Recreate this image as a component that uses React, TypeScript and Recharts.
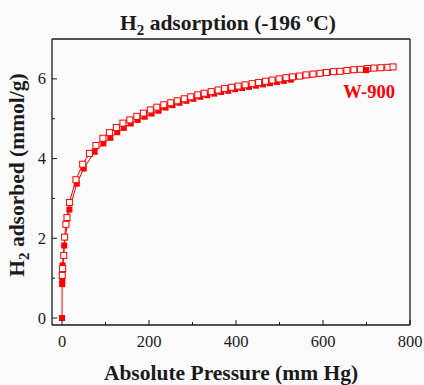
import { ComposedChart, Line, XAxis, YAxis, ReferenceLine } from "recharts"

// adsorption branch (filled squares)
const adsP = [0, 0.4, 0.6, 1.3, 5, 17, 34, 50, 75, 95, 111, 127, 142, 158, 174, 190, 206, 222, 238, 254, 270, 286, 302, 318, 334, 350, 366, 382, 398, 414, 430, 446, 462, 478, 494, 510, 526, 699]
const adsV = [0, 0.85, 0.95, 1.32, 1.82, 2.72, 3.37, 3.75, 4.17, 4.38, 4.52, 4.66, 4.77, 4.88, 4.97, 5.05, 5.13, 5.2, 5.28, 5.34, 5.4, 5.45, 5.5, 5.55, 5.59, 5.63, 5.67, 5.7, 5.74, 5.77, 5.8, 5.83, 5.86, 5.89, 5.92, 5.95, 5.98, 6.22]

// desorption branch (open squares)
const desP = [0.5, 1.5, 4, 6, 9, 11.5, 17, 32, 47.5, 63, 78, 94, 109, 125, 140, 156, 172, 187, 203, 218, 234, 250, 265, 281, 296, 312, 327, 343, 359, 374, 390, 405, 421, 437, 452, 468, 483, 499, 515, 530, 546, 561, 577, 593, 608, 624, 639, 655, 671, 686, 702, 717, 733, 749, 761]
const desV = [1.07, 1.24, 1.57, 2.03, 2.35, 2.52, 2.9, 3.47, 3.86, 4.13, 4.33, 4.51, 4.65, 4.78, 4.89, 4.97, 5.06, 5.14, 5.22, 5.29, 5.35, 5.4, 5.45, 5.5, 5.55, 5.6, 5.64, 5.68, 5.72, 5.76, 5.79, 5.82, 5.85, 5.88, 5.91, 5.94, 5.97, 6.0, 6.03, 6.05, 6.07, 6.1, 6.12, 6.14, 6.16, 6.18, 6.19, 6.21, 6.23, 6.24, 6.26, 6.27, 6.28, 6.29, 6.3]

const xTicks = [0, 100, 200, 300, 400, 500, 600, 700, 800]
const yTicks = [0, 1, 2, 3, 4, 5, 6]

const adsData = adsP.map((p, i) => ({ p, v: adsV[i] }))
const desData = desP.map((p, i) => ({ p, v: desV[i] }))
const lastAds = adsData.slice(-1)

const RED = "#ff0000"
const INK = "#1a1a1a"
const FONT = "'Liberation Serif', 'Times New Roman', serif"

const filledDot = (props: any) => {
  const { cx, cy, index } = props
  if (cx == null || cy == null) return <g key={`f${index}`} />
  return <rect key={`f${index}`} x={cx - 3} y={cy - 3} width={6} height={6} fill={RED} />
}

const openDot = (props: any) => {
  const { cx, cy, index } = props
  if (cx == null || cy == null) return <g key={`o${index}`} />
  return <rect key={`o${index}`} x={cx - 3} y={cy - 3} width={6} height={6} fill="#ffffff" stroke={RED} strokeWidth={1} />
}

const XTick = (props: any) => {
  const { x, y, payload } = props
  const major = payload.value % 200 === 0
  return (
    <g>
      <line x1={x} x2={x} y1={y} y2={y - (major ? 5 : 3)} stroke={INK} strokeWidth={1} />
      {major && (
        <text x={x} y={y + 22} textAnchor="middle" fill={INK} style={{ fontFamily: FONT, fontSize: 16.5 }}>
          {payload.value}
        </text>
      )}
    </g>
  )
}

const YTick = (props: any) => {
  const { x, y, payload } = props
  const major = payload.value % 2 === 0
  return (
    <g>
      <line x1={x} x2={x + (major ? 5 : 3)} y1={y} y2={y} stroke={INK} strokeWidth={1} />
      {major && (
        <text x={x - 6} y={y + 5.5} textAnchor="end" fill={INK} style={{ fontFamily: FONT, fontSize: 16.5 }}>
          {payload.value}
        </text>
      )}
    </g>
  )
}

const titleStyle = { fontFamily: FONT, fontSize: 21.5, fontWeight: "bold" as const }

export default function App() {
  return (
    <div style={{ position: "absolute", left: 0, top: 0, width: 424, height: 385, background: "#fafafa" }}>
      <ComposedChart width={424} height={385} margin={{ top: 39, right: 14, bottom: 0, left: 0 }}>
        <XAxis
          type="number"
          dataKey="p"
          domain={[-23, 800]}
          allowDataOverflow
          ticks={xTicks}
          interval={0}
          height={60}
          tickSize={0}
          tickMargin={0}
          tickLine={false}
          tick={<XTick />}
          axisLine={{ stroke: INK, strokeWidth: 1.3 }}
        />
        <YAxis
          type="number"
          dataKey="v"
          domain={[-0.175, 7]}
          allowDataOverflow
          ticks={yTicks}
          interval={0}
          width={52}
          tickSize={0}
          tickMargin={0}
          tickLine={false}
          tick={<YTick />}
          axisLine={{ stroke: INK, strokeWidth: 1.3 }}
        />
        <ReferenceLine y={7} stroke={INK} strokeWidth={1.3} />
        <ReferenceLine x={800} stroke={INK} strokeWidth={1.3} />
        <Line data={adsData} dataKey="v" stroke={RED} strokeWidth={1} dot={filledDot} isAnimationActive={false} />
        <Line data={desData} dataKey="v" stroke={RED} strokeWidth={1} dot={openDot} isAnimationActive={false} />
        <Line data={lastAds} dataKey="v" stroke="none" dot={filledDot} isAnimationActive={false} />
        <text x={228} y={30} textAnchor="middle" fill={INK} style={titleStyle}>
          H<tspan dy={5} style={{ fontSize: 15 }}>2</tspan>
          <tspan dy={-5}> adsorption (-196 ºC)</tspan>
        </text>
        <text x={395} y={98} textAnchor="end" fill={RED} style={{ fontFamily: FONT, fontSize: 18.5, fontWeight: "bold" }}>
          W-900
        </text>
        <text x={231} y={380} textAnchor="middle" fill={INK} style={titleStyle}>
          Absolute Pressure (mm Hg)
        </text>
        <text transform="rotate(-90)" x={-175} y={24} textAnchor="middle" fill={INK} style={titleStyle}>
          H<tspan dy={5} style={{ fontSize: 15 }}>2</tspan>
          <tspan dy={-5}> adsorbed (mmol/g)</tspan>
        </text>
      </ComposedChart>
    </div>
  )
}
